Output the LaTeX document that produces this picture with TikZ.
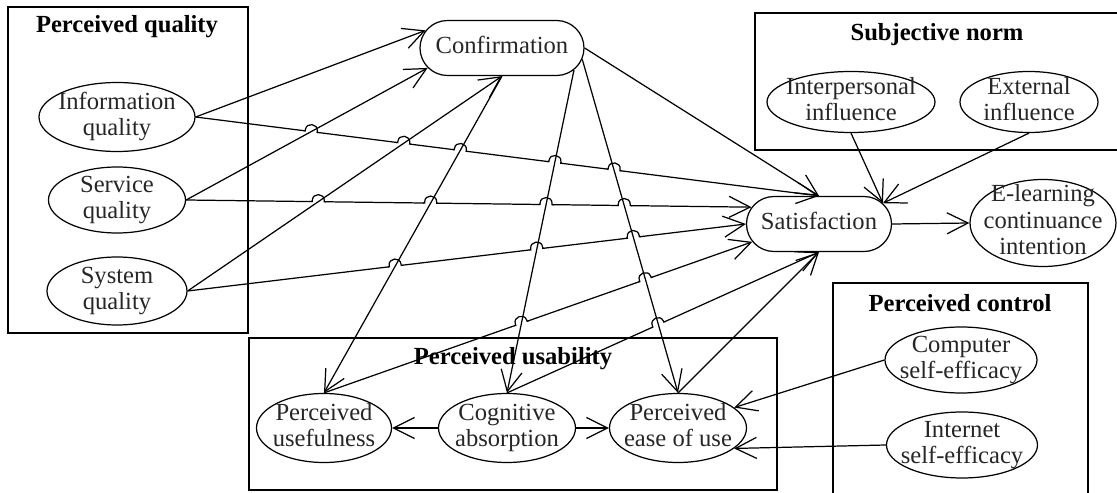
\documentclass[tikz,border=0pt]{standalone}
\usepackage{fontspec}
\setmainfont{Liberation Serif}
\usetikzlibrary{shapes.geometric,shapes.misc,arrows.meta,intersections}

\newlength\pxu
\setlength\pxu{0.02cm}

% centred multi-line label that does not enlarge its node
\newcommand\ctext[1]{\makebox[0pt]{\vbox to 0pt{\vss\hbox{\begin{tabular}{@{}c@{}}#1\end{tabular}}\vss}}}

% a small bump where one connector jumps over another
\newcommand\hopover[4]{%
  \path[name intersections={of=#1 and #2, by=hopx}];
  \pgfmathanglebetweenpoints{\pgfpointanchor{#3}{center}}{\pgfpointanchor{#4}{center}}%
  \let\hopang\pgfmathresult
  \begin{scope}[shift={(hopx)}, rotate=\hopang]
    \draw[white, line width=2.8pt] (-6.4,0) -- (6.4,0);
    \draw[conn] (-7.5,0) -- (-6,0) -- (-6,-1.2) .. controls (-6,-9) and (6,-9) .. (6,-1.2) -- (6,0) -- (7.5,0);
  \end{scope}}

\begin{document}
\begin{tikzpicture}[x=0.02cm, y=-0.02cm,
  conn/.style={line width=0.7pt, black},
  arr/.style={conn, -{Straight Barb[length=12pt,width=12pt]}},
  boxline/.style={line width=0.8pt, black},
  txt/.style={font=\fontsize{14}{15}\selectfont, text=black!85},
  ell/.style={ellipse, draw, line width=0.7pt, inner sep=0pt, txt},
  stad/.style={rounded rectangle, draw, line width=0.7pt, inner sep=0pt, txt},
  ttl/.style={inner sep=0pt, font=\bfseries\fontsize{14}{16}\selectfont, text=black}]

\useasboundingbox (0,0) rectangle (1117,493);
\clip (0,0) rectangle (1117,493);

% group frames
\draw[boxline] (8,7) rectangle (248,333);
\draw[boxline] (755,13) rectangle (1130,150);
\draw[boxline] (833,283) rectangle (1088,510);
\draw[boxline] (249,338) rectangle (777,490);

\node[ttl] (tpq) at (127,27) {Perceived quality};
\node[ttl] (tsn) at (937,35) {Subjective norm};
\node[ttl] (tpc) at (960,303) {Perceived control};
\node[ttl] (tpu) at (513,359) {Perceived usability};

% constructs
\node[ell, minimum width=156\pxu, minimum height=69\pxu] (iq) at (117,117) {\ctext{Information\\quality}};
\node[ell, minimum width=137\pxu, minimum height=66\pxu] (sq) at (117,200) {\ctext{Service\\quality}};
\node[ell, minimum width=140\pxu, minimum height=68\pxu] (syq) at (117,291) {\ctext{System\\quality}};
\node[stad, minimum width=164\pxu, minimum height=55\pxu] (conf) at (502,48) {\ctext{Confirmation}};
\node[ell, minimum width=168\pxu, minimum height=61\pxu] (ip) at (851,102) {\ctext{Interpersonal\\influence}};
\node[ell, minimum width=138\pxu, minimum height=61\pxu] (ext) at (1029,102) {\ctext{External\\influence}};
\node[stad, minimum width=145\pxu, minimum height=55\pxu] (sat) at (819,224) {\ctext{Satisfaction}};
\node[ell, minimum width=146\pxu, minimum height=87\pxu] (eci) at (1043,223) {\ctext{E-learning\\continuance\\intention}};
\node[ell, minimum width=152\pxu, minimum height=66\pxu] (cse) at (961,360) {\ctext{Computer\\self-efficacy}};
\node[ell, minimum width=151\pxu, minimum height=66\pxu] (ise) at (962,445) {\ctext{Internet\\self-efficacy}};
\node[ell, minimum width=135\pxu, minimum height=69\pxu] (pu) at (324,428) {\ctext{Perceived\\usefulness}};
\node[ell, minimum width=137\pxu, minimum height=69\pxu] (ca) at (507,428) {\ctext{Cognitive\\absorption}};
\node[ell, minimum width=137\pxu, minimum height=69\pxu] (pe) at (678,428) {\ctext{Perceived\\ease of use}};

% end points of the connectors that jump
\coordinate (h1a) at (iq.east);  \coordinate (h1b) at (sat.north);
\coordinate (h2a) at (sq.east);  \coordinate (h2b) at (sat.166);
\coordinate (h3a) at (syq.east); \coordinate (h3b) at (sat.west);
\coordinate (h4a) at (pu.north); \coordinate (h4b) at (sat.195);
\coordinate (h5a) at (ca.north); \coordinate (h5b) at (sat.south);

\path[name path=H1] (h1a) -- (h1b);
\path[name path=H2] (h2a) -- (h2b);
\path[name path=H3] (h3a) -- (h3b);
\path[name path=H4] (h4a) -- (h4b);
\path[name path=H5] (h5a) -- (h5b);
\path[name path=S1] (sq.east) -- (conf.195);
\path[name path=S2] (syq.east) -- (conf.south);
\path[name path=S3] (conf.south) -- (pu.north);
\path[name path=S4] (conf.343) -- (ca.north);
\path[name path=S5] (conf.352) -- (pe.north);

% connectors into satisfaction that jump over the others
\draw[arr] (iq.east) -- (sat.north);
\draw[arr] (sq.east) -- (sat.166);
\draw[arr] (syq.east) -- (sat.west);
\draw[arr] (pu.north) -- (sat.195);
\draw[arr] (ca.north) -- (sat.south);

\hopover{H1}{S1}{h1a}{h1b}
\hopover{H1}{S2}{h1a}{h1b}
\hopover{H1}{S3}{h1a}{h1b}
\hopover{H1}{S4}{h1a}{h1b}
\hopover{H1}{S5}{h1a}{h1b}
\hopover{H2}{S2}{h2a}{h2b}
\hopover{H2}{S3}{h2a}{h2b}
\hopover{H2}{S4}{h2a}{h2b}
\hopover{H2}{S5}{h2a}{h2b}
\hopover{H3}{S3}{h3a}{h3b}
\hopover{H3}{S4}{h3a}{h3b}
\hopover{H3}{S5}{h3a}{h3b}
\hopover{H4}{S4}{h4a}{h4b}
\hopover{H4}{S5}{h4a}{h4b}
\hopover{H5}{S5}{h5a}{h5b}

% connectors that are jumped over
\draw[arr] (sq.east) -- (conf.195);
\draw[arr] (syq.east) -- (conf.south);
\draw[arr] (conf.south) -- (pu.north);
\draw[arr] (conf.343) -- (ca.north);
\draw[arr] (conf.352) -- (pe.north);

% remaining connectors
\draw[arr] (iq.east) -- (conf.167);
\draw[arr] (conf.east) -- (sat.north);
\draw[arr] (pe.north) -- (sat.south);
\draw[arr] (ip.south) -- (sat.18);
\draw[arr] (ext.south) -- (sat.18);
\draw[arr] (sat.east) -- (eci.west);
\draw[arr] (ca.west) -- (pu.east);
\draw[arr] (ca.east) -- (pe.west);
\draw[arr] (cse.west) -- (pe.20);
\draw[arr] (ise.west) -- (pe.340);
\end{tikzpicture}
\end{document}
